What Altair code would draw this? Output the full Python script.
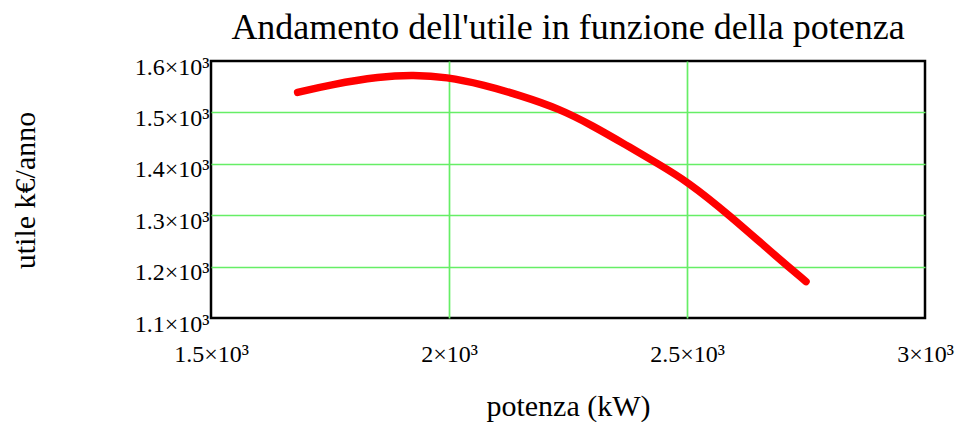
import altair as alt
import pandas as pd

# data
potenza = [1682, 1751, 1856, 1925, 1995, 2071, 2150, 2232, 2302, 2371, 2441, 2500, 2587, 2692, 2750]
utile = [1539, 1554, 1570, 1573, 1569, 1554, 1533, 1507, 1474, 1437, 1399, 1366, 1302, 1216, 1171]

x_ticks = [1500, 2000, 2500, 3000]
y_ticks = [1100, 1200, 1300, 1400, 1500, 1600]

df = pd.DataFrame({"potenza": potenza, "utile": utile})

FONT = "Liberation Serif"
GRID = "#66ee66"

x_grid_op = alt.condition("datum.value <= 1500 || datum.value >= 3000", alt.value(0), alt.value(1))
y_grid_op = alt.condition("datum.value <= 1100 || datum.value >= 1600", alt.value(0), alt.value(1))

chart = (
    alt.Chart(df)
    .mark_line(color="#ff0000", strokeWidth=7.5, strokeCap="round", strokeJoin="round", interpolate="basis")
    .encode(
        x=alt.X(
            "potenza:Q",
            scale=alt.Scale(domain=[1500, 3000], nice=False, zero=False),
            axis=alt.Axis(
                values=x_ticks,
                title="potenza (kW)",
                labelExpr="format(datum.value/1000, '') + '×10³'",
                labelFont=FONT,
                labelFontSize=24,
                labelColor="black",
                labelPadding=24,
                labelFlush=False,
                labelOverlap=False,
                domain=False,
                ticks=False,
                grid=True,
                gridColor=GRID,
                gridWidth=1.7,
                gridOpacity=x_grid_op,
                titleFont=FONT,
                titleFontSize=30,
                titleFontWeight="normal",
                titleColor="black",
                titleX=357,
                titleY=88,
                titleBaseline="middle",
                titleAnchor="start",
                titleAlign="center",
            ),
        ),
        y=alt.Y(
            "utile:Q",
            scale=alt.Scale(domain=[1100, 1600], nice=False, zero=False),
            axis=alt.Axis(
                values=y_ticks,
                title="utile k€/anno",
                labelExpr="format(datum.value/1000, '') + '×10³'",
                labelFont=FONT,
                labelFontSize=24,
                labelColor="black",
                labelPadding=2,
                labelFlush=False,
                labelOverlap=False,
                labelBaseline="middle",
                labelOffset=6,
                domain=False,
                ticks=False,
                grid=True,
                gridColor=GRID,
                gridWidth=1.7,
                gridOpacity=y_grid_op,
                titleFont=FONT,
                titleFontSize=30,
                titleFontWeight="normal",
                titleColor="black",
                titleAngle=-90,
                titleX=-186,
                titleY=129,
                titleBaseline="middle",
                titleAlign="center",
            ),
        ),
    )
    .properties(
        width=714,
        height=257,
        background="white",
        autosize=alt.AutoSizeParams(type="none"),
        padding={"left": 203, "top": 53, "right": 30, "bottom": 104},
        title=alt.TitleParams(
            "Andamento dell'utile in funzione della potenza",
            font=FONT,
            fontSize=36,
            fontWeight="normal",
            color="black",
            anchor="middle",
            frame="group",
            offset=8,
        ),
    )
    .configure_view(stroke="black", strokeWidth=2.5)
)

chart.save("out.html", embed_options={"renderer": "svg", "actions": False})
